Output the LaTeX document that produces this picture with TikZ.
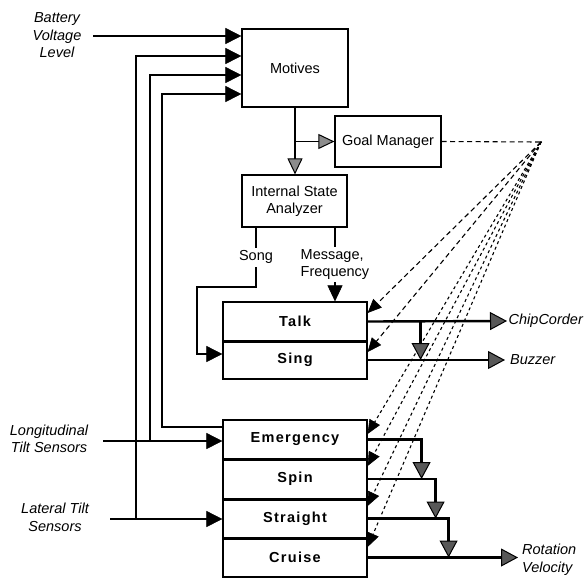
\documentclass[tikz,border=0pt]{standalone}
\usepackage{fontspec}
\setmainfont{Liberation Sans}
\newfontfamily\spacedsans{Liberation Sans}[LetterSpace=9]
\usetikzlibrary{arrows.meta,calc}
\definecolor{tipgray}{RGB}{88,88,88}
\definecolor{tiplight}{RGB}{140,140,140}
\newcommand\mylblfont{\fontsize{14.5}{17.5}\selectfont}
\newcommand\mystkfont{\spacedsans\bfseries\fontsize{14.5}{16}\selectfont}
\begin{document}
\begin{tikzpicture}[x=1pt,y=-1pt,
  box/.style={draw, line width=1.2pt, inner sep=0pt, font=\mylblfont, align=center},
  stackbox/.style={draw, line width=1.2pt, inner sep=0pt, minimum width=144, font=\mystkfont},
  lab/.style={font=\mylblfont\itshape, align=center, inner sep=0pt},
  inarr/.style={line width=1.1pt, -{Triangle[length=16pt,width=16pt,line width=0.6pt]}},
  thickarr/.style={line width=2.6pt, -{Triangle[length=16pt,width=16pt,line width=0.6pt]}},
  msgarr/.style={line width=1.1pt, -{Triangle[length=16pt,width=15pt,line width=0.6pt]}},
  grayarr/.style={line width=1.1pt, -{Triangle[length=16pt,width=15pt,line width=1pt,fill=tiplight]}},
  outarr/.style={line width=2.4pt, -{Triangle[length=17pt,width=18pt,line width=1pt,fill=tipgray]}},
  dashL/.style={line width=1.1pt, dash pattern=on 5pt off 3.5pt},
  dashS/.style={line width=1.1pt, dash pattern=on 3pt off 3pt},
  dtip/.style={-{Triangle[length=14pt,width=12pt,line width=0.6pt]}}
]
\useasboundingbox (0,0) rectangle (584,579);

% boxes
\node[box, minimum width=106, minimum height=78] (mot) at (295,68) {Motives};
\node[box, minimum width=106, minimum height=51] (gm) at (388,141.5) {Goal Manager};
\node[box, minimum width=105, minimum height=52] (isa) at (294.5,201) {Internal State\\Analyzer};

\node[stackbox, minimum height=39] (talk) at (295,321.5) {Talk};
\node[stackbox, minimum height=38] (sing) at (295,360) {Sing};
\node[stackbox, minimum height=39] (em) at (295,439.5) {Emergency};
\node[stackbox, minimum height=40] (spin) at (295,479) {Spin};
\node[stackbox, minimum height=39] (str) at (295,518.5) {Straight};
\node[stackbox, minimum height=39] (cru) at (295,557.5) {Cruise};

% thicker dividers
\draw[line width=2.4pt] (talk.south west) -- (talk.south east);
\draw[line width=2.4pt] (em.south west) -- (em.south east);
\draw[line width=2.4pt] (spin.south west) -- (spin.south east);
\draw[line width=2.4pt] (str.south west) -- (str.south east);

% labels
\node[lab] (bat) at (57,35.5) {Battery\\Voltage\\Level};
\node[lab] (lon) at (49,439) {Longitudinal\\Tilt Sensors};
\node[lab] (lat) at (55,517.5) {Lateral Tilt\\Sensors};
\node[lab, anchor=west, inner sep=1.5pt] (chip) at (507,321) {ChipCorder};
\node[lab, anchor=west, inner sep=5pt] (buz) at (505,360) {Buzzer};
\node[lab, anchor=west, align=left, inner sep=4pt] (rot) at (518,559.5) {Rotation\\Velocity};

% input coordinates
\coordinate (batE) at (93,36);
\coordinate (lonE) at (103,441);
\coordinate (latE) at (110,519);
\coordinate (jlat) at (136,519);
\coordinate (jlon) at (150,441);
\coordinate (emfb) at (em.west |- 0,427);
\coordinate (apex) at (541,142);

% inputs
\draw[inarr] (batE) -- (batE -| mot.west);
\draw[inarr] (lonE) -- (lonE -| em.west);
\draw[inarr] (latE) -- (latE -| str.west);
\draw[inarr] (jlat) -- (136,56) -- (mot.west |- 0,56);
\draw[inarr] (jlon) -- (150,75) -- (mot.west |- 0,75);
\draw[thickarr] (emfb) -- (162,427) -- (162,94) -- (mot.west |- 0,94);

% motives -> ISA, GM
\draw[grayarr] (mot.south) -- (mot.south |- isa.north);
\draw[grayarr] (mot.south |- gm.west) -- (gm.west);

% ISA -> Talk, Sing
\draw[msgarr] (isa.south -| 335,0) -- node[fill=white, inner sep=2pt, font=\mylblfont, align=left] {Message,\\Frequency} (talk.north -| 335,0);
\draw[inarr] (isa.south -| 256,0) -- node[fill=white, inner sep=3pt, font=\mylblfont] {Song} (256,287) -- (197,287) -- (197,354) -- (sing.west |- 0,354);

% goal manager dashed
\draw[dashL] (gm.east) -- (apex);
\fill (apex) circle (1pt);
\draw[dashL, dtip] (apex) -- (talk.east |- 0,313);
\draw[dashL, dtip] (apex) -- (sing.east |- 0,352);
\draw[dashS, dtip] (apex) -- (em.east |- 0,434);
\draw[dashS, dtip] (apex) -- (spin.east |- 0,466);
\draw[dashS, dtip] (apex) -- (str.east |- 0,506);
\draw[dashS, dtip] (apex) -- (cru.east |- 0,547);

% outputs
\draw[outarr] (talk.east) -- (chip.west);
\draw[outarr] (sing.east) -- (buz.west);
\draw[outarr] ($(talk.east)+(53,0)$) -- ($(sing.east)+(53,0)$);
\draw[outarr] (em.east) -| ($(spin.east)+(54,0)$);
\draw[outarr] (spin.east) -| ($(str.east)+(68,0)$);
\draw[outarr] (str.east) -| ($(cru.east)+(81,0)$);
\draw[outarr] (cru.east) -- (rot.west |- cru.east);
\end{tikzpicture}
\end{document}
